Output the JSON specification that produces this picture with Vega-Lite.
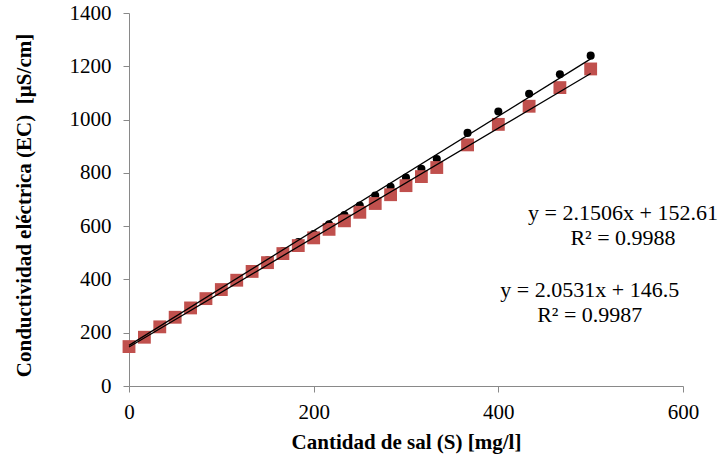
{
  "$schema": "https://vega.github.io/schema/vega-lite/v6.json",
  "width": 554,
  "height": 373,
  "autosize": "none",
  "padding": {"left": 129, "top": 13, "right": 38, "bottom": 71},
  "background": "white",
  "config": {
    "view": {"stroke": null},
    "axis": {
      "grid": false,
      "domainColor": "#898989",
      "tickColor": "#898989",
      "tickSize": 6,
      "labelFont": "Liberation Serif",
      "labelFontSize": 21,
      "labelColor": "#000000",
      "labelFlush": false,
      "titleFont": "Liberation Serif",
      "titleFontSize": 21,
      "titleFontWeight": "bold",
      "titleColor": "#000000"
    }
  },
  "datasets": {
    "points": [
      {"series": "A", "x": 0, "y": 150}, {"series": "A", "x": 16.67, "y": 185}, {"series": "A", "x": 33.33, "y": 225}, {"series": "A", "x": 50, "y": 262},
      {"series": "A", "x": 66.67, "y": 298}, {"series": "A", "x": 83.33, "y": 333}, {"series": "A", "x": 100, "y": 368}, {"series": "A", "x": 116.67, "y": 403},
      {"series": "A", "x": 133.33, "y": 437}, {"series": "A", "x": 150, "y": 472}, {"series": "A", "x": 166.67, "y": 507}, {"series": "A", "x": 183.33, "y": 540},
      {"series": "A", "x": 200, "y": 570}, {"series": "A", "x": 216.67, "y": 607}, {"series": "A", "x": 233.33, "y": 642}, {"series": "A", "x": 250, "y": 677},
      {"series": "A", "x": 266.67, "y": 715}, {"series": "A", "x": 283.33, "y": 748}, {"series": "A", "x": 300, "y": 782}, {"series": "A", "x": 316.67, "y": 815},
      {"series": "A", "x": 333.33, "y": 852}, {"series": "A", "x": 366.67, "y": 950}, {"series": "A", "x": 400, "y": 1030}, {"series": "A", "x": 433.33, "y": 1097},
      {"series": "A", "x": 466.67, "y": 1170}, {"series": "A", "x": 500, "y": 1240},
      {"series": "B", "x": 0, "y": 148}, {"series": "B", "x": 16.67, "y": 183}, {"series": "B", "x": 33.33, "y": 222}, {"series": "B", "x": 50, "y": 258},
      {"series": "B", "x": 66.67, "y": 293}, {"series": "B", "x": 83.33, "y": 328}, {"series": "B", "x": 100, "y": 362}, {"series": "B", "x": 116.67, "y": 397},
      {"series": "B", "x": 133.33, "y": 430}, {"series": "B", "x": 150, "y": 463}, {"series": "B", "x": 166.67, "y": 497}, {"series": "B", "x": 183.33, "y": 527},
      {"series": "B", "x": 200, "y": 556}, {"series": "B", "x": 216.67, "y": 588}, {"series": "B", "x": 233.33, "y": 620}, {"series": "B", "x": 250, "y": 652},
      {"series": "B", "x": 266.67, "y": 685}, {"series": "B", "x": 283.33, "y": 718}, {"series": "B", "x": 300, "y": 752}, {"series": "B", "x": 316.67, "y": 786},
      {"series": "B", "x": 333.33, "y": 820}, {"series": "B", "x": 366.67, "y": 905}, {"series": "B", "x": 400, "y": 982}, {"series": "B", "x": 433.33, "y": 1050},
      {"series": "B", "x": 466.67, "y": 1120}, {"series": "B", "x": 500, "y": 1190}
    ],
    "trend": [
      {"series": "A", "x": 0, "y": 152.61}, {"series": "A", "x": 500, "y": 1227.91},
      {"series": "B", "x": 0, "y": 146.5}, {"series": "B", "x": 500, "y": 1173.05}
    ],
    "labels": [
      {"x": 535, "y": 649, "text": "y = 2.1506x + 152.61"},
      {"x": 535, "y": 556, "text": "R² = 0.9988"},
      {"x": 499, "y": 360, "text": "y = 2.0531x + 146.5"},
      {"x": 499, "y": 267, "text": "R² = 0.9987"}
    ]
  },
  "encoding": {
    "x": {"field": "x", "type": "quantitative", "scale": {"domain": [0, 600], "nice": false},
      "axis": {"values": [0, 200, 400, 600], "format": "d", "title": "Cantidad de sal (S) [mg/l]", "labelPadding": 9, "titlePadding": 9}},
    "y": {"field": "y", "type": "quantitative", "scale": {"domain": [0, 1400], "nice": false},
      "axis": {"values": [0, 200, 400, 600, 800, 1000, 1200, 1400], "format": "d", "title": "Conductividad eléctrica (EC)\u00a0\u00a0[µS/cm]", "labelPadding": 12, "titlePadding": 35, "titleY": 192}}
  },
  "layer": [
    {
      "data": {"name": "points"},
      "transform": [{"filter": "datum.series == 'A'"}],
      "mark": {"type": "point", "shape": "circle", "filled": true, "size": 65, "color": "#000000", "opacity": 1}
    },
    {
      "data": {"name": "points"},
      "transform": [{"filter": "datum.series == 'B'"}],
      "mark": {"type": "point", "shape": "square", "filled": true, "size": 165, "color": "#C0504D", "opacity": 1}
    },
    {
      "data": {"name": "trend"},
      "mark": {"type": "line", "color": "#000000", "strokeWidth": 1.3},
      "encoding": {"detail": {"field": "series"}}
    },
    {
      "data": {"name": "labels"},
      "mark": {"type": "text", "font": "Liberation Serif", "fontSize": 22, "align": "center", "baseline": "middle", "color": "#000000"},
      "encoding": {"text": {"field": "text"}}
    }
  ]
}
